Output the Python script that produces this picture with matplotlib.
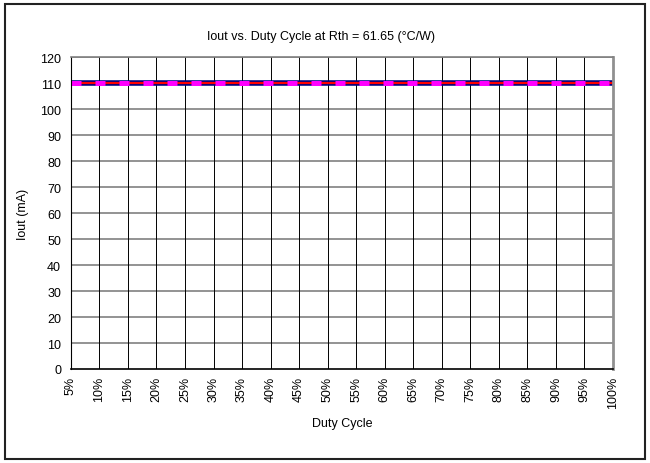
import matplotlib.pyplot as plt
from matplotlib.patches import Rectangle

plt.rcParams['font.family'] = ['Liberation Sans', 'DejaVu Sans']

duty = ['5%', '10%', '15%', '20%', '25%', '30%', '35%', '40%', '45%', '50%',
        '55%', '60%', '65%', '70%', '75%', '80%', '85%', '90%', '95%', '100%']
iout_a = [110] * 20   # navy series
iout_b = [110] * 20   # red series
iout_c = [110] * 20   # magenta dashed series

fig = plt.figure(figsize=(6.5, 4.64), dpi=100)
ax = fig.add_axes([0.109, 0.2026, 0.834, 0.672])

x = list(range(len(duty)))
ax.plot(x, iout_a, color='#000080', lw=4.0, solid_capstyle='round', zorder=3)
ax.plot(x, iout_b, color='#ff0000', lw=1.6, zorder=4)
ax.plot(x, iout_c, color='#ff00ff', lw=3.6, dashes=(2.0, 2.8), zorder=5)

ax.set_xlim(0, len(duty) - 1)
ax.set_ylim(0, 120)
ax.set_yticks(range(0, 121, 10))
ax.set_xticks(x)
ax.set_xticklabels(duty, rotation=90, fontsize=9)
ax.tick_params(axis='y', labelsize=9, length=0, pad=7)
ax.tick_params(axis='x', length=0, pad=5)

for v in range(10, 121, 10):
    ax.axhline(v, color='#808080', lw=1.2, zorder=1)
for i in x[1:-1]:
    ax.axvline(i, color='#000000', lw=0.7, zorder=1)

ax.spines['left'].set_color('black')
ax.spines['bottom'].set_color('black')
ax.spines['bottom'].set_linewidth(1.2)
ax.spines['top'].set_color('#808080')
ax.spines['top'].set_linewidth(1.2)
ax.spines['right'].set_color('#909090')
ax.spines['right'].set_linewidth(2)
for s in ax.spines.values():
    s.set_zorder(6)

ax.set_xlabel('Duty Cycle', fontsize=9, labelpad=6)
ax.set_ylabel('Iout (mA)', fontsize=9, labelpad=8)
fig.text(0.494, 0.92, 'Iout vs. Duty Cycle at Rth = 61.65 (°C/W)',
         ha='center', va='center', fontsize=9)

fig.patches.append(Rectangle((5 / 650, 4 / 464), 640 / 650, 455 / 464,
                             transform=fig.transFigure, fill=False,
                             edgecolor='#222222', lw=1.5))

fig.savefig('out.png', dpi=100)
